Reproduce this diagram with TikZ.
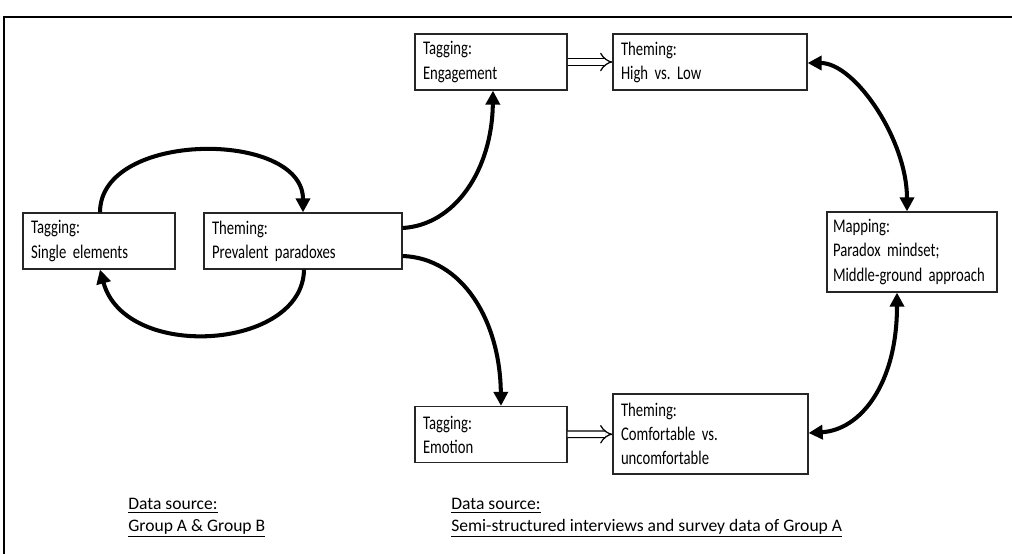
\documentclass[tikz,border=0pt]{standalone}
\usepackage{fontspec}
\setmainfont{Carlito}
\newfontfamily\boxfont{Carlito}[FakeStretch=0.76,WordSpace=0.75]
\usetikzlibrary{arrows.meta}
\frenchspacing
\hyphenpenalty=10000

\begin{document}
\begin{tikzpicture}
	[x=0.02cm,y=-0.02cm,
	box/.style={draw=black!85,line width=0.7pt,align=left,inner xsep=0.16cm,inner ysep=0pt,minimum height=1.12cm,font=\boxfont\fontsize{11}{13.7}\selectfont},
	flow/.style={line width=2.3pt,-{Triangle[length=8pt,width=8pt]}},
	both/.style={line width=2.3pt,{Triangle[length=8pt,width=8pt]}-{Triangle[length=8pt,width=8pt]}},
	pass/.style={double,double distance=3pt,line width=0.7pt,-{Implies}},
	source/.style={align=left,inner sep=0pt,anchor=west,font=\fontsize{10}{12.5}\selectfont}]
	\useasboundingbox (0,0) rectangle (1012,554);
	\draw[line width=0.9pt] (4,554) |- (1012,17);
	
	\node[box,text width=2.72cm] (single) at (99,241) {Tagging:\\Single elements};
	\node[box,text width=3.64cm] (prevalent) at (303,241) {Theming:\\Prevalent paradoxes};
	\node[box,text width=2.72cm] (engage) at (491,62) {Tagging:\\Engagement};
	\node[box,text width=3.56cm] (highlow) at (710,62) {Theming:\\High vs. Low};
	\node[box,text width=3.16cm,inner xsep=0.12cm,minimum height=1.6cm] (mapping) at (912,252) {Mapping:\\Paradox mindset;\\Middle-ground~approach};
	\node[box,text width=2.72cm] (emotion) at (491,434.5) {Tagging:\\Emotion};
	\node[box,text width=3.58cm,minimum height=1.6cm] (comfort) at (710.5,434) {Theming:\\Comfortable vs.\\uncomfortable};
	\node[source] (srcA) at (128,518) {\underline{Data source:}\\\underline{Group A \& Group B}};
	\node[source] (srcB) at (451,518) {\underline{Data source:}\\\underline{Semi-structured interviews and survey data of Group A}};
	
	\draw[flow] ([xshift=0.02cm]single.north) .. controls (100,130) and (303,130) .. (prevalent.north);
	\draw[flow] ([xshift=0.02cm]prevalent.south) .. controls (303,350) and (125,362) .. ([xshift=0.02cm]single.south);
	\draw[flow] ([yshift=0.26cm]prevalent.east) .. controls (455,225) and (492,170) .. ([xshift=0.04cm]engage.south);
	\draw[flow] ([yshift=-0.3cm]prevalent.east) .. controls (462,258) and (500,320) .. ([xshift=0.2cm]emotion.north);
	\draw[both] ([yshift=-0.02cm]highlow.east) .. controls (855,63) and (907,140) .. ([xshift=-0.1cm]mapping.north);
	\draw[both] ([xshift=-0.3cm]mapping.south) .. controls (897,385) and (860,430) .. ([yshift=0.02cm]comfort.east);
	\foreach \from/\to in {engage/highlow,emotion/comfort}
	\draw[pass] (\from) -- (\to);
	\end{tikzpicture}
\end{document}
